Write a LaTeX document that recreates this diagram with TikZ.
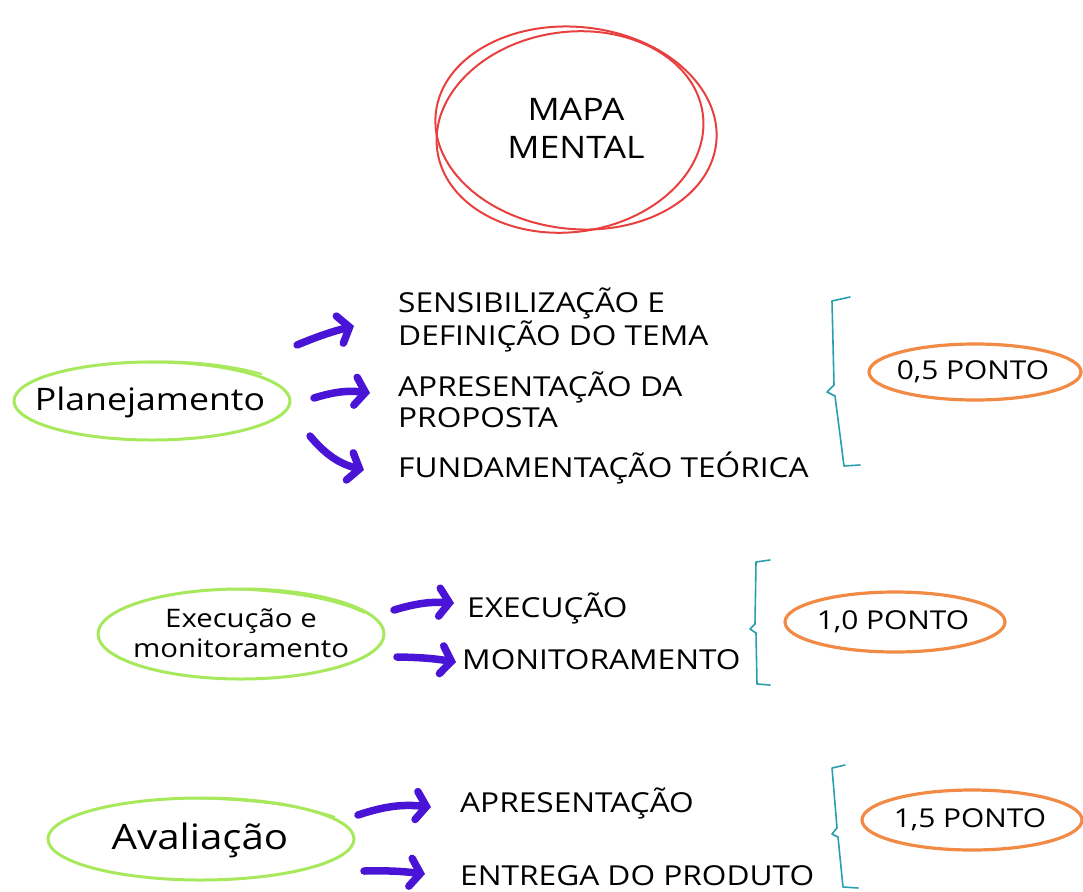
\documentclass[tikz,border=0pt]{standalone}
\usepackage{fontspec}
\setmainfont{Open Sans}
\newfontfamily\hand[FakeStretch=1.15]{Open Sans}
\usetikzlibrary{arrows.meta,shapes.geometric}
\definecolor{mred}{HTML}{E8403F}
\definecolor{mgreen}{HTML}{A8E85C}
\definecolor{mindigo}{HTML}{4A14D6}
\definecolor{mteal}{HTML}{2A9DAE}
\definecolor{morange}{HTML}{F08A44}
\begin{document}
\begin{tikzpicture}[x=1pt,y=-1pt,
 lbl/.style={anchor=west,align=left,inner sep=0,font=\hand\fontsize{27.5}{31}\selectfont},
 ring/.style={draw=mgreen,line width=3pt},
 oring/.style={draw=morange,line width=3.2pt},
 pts/.style={inner sep=0,font=\hand\fontsize{26}{28}\selectfont},
 arr/.style={draw=mindigo,line width=7.5pt,line cap=round,-{Straight Barb[length=10pt,width=28pt,line cap=round]}},
 brace/.style={draw=mteal,line width=1.6pt,line join=round,line cap=round}]
\useasboundingbox (0,0) rectangle (1083,891);

% central circle
\node[align=center,font=\hand\fontsize{31}{38}\selectfont] (map) at (576,128) {MAPA\\MENTAL};
\draw[mred,line width=2pt,rotate around={-6:(572,126)}] (map.center) ellipse [x radius=141pt,y radius=101pt];
\draw[mred,line width=2pt,rotate around={8:(570,132)}] (570,132) ellipse [x radius=134pt,y radius=100pt];

% ---------- Planejamento ----------
\node[inner sep=0,font=\hand\fontsize{31}{34}\selectfont] (plan) at (150,402) {Planejamento};
\draw[ring] (152,401) ellipse [x radius=138pt,y radius=39pt];
\draw[mgreen,line width=2pt] (140,362) .. controls (190,360) and (230,365) .. (262,374);
\node[lbl] (t1) at (398,320) {SENSIBILIZAÇÃO E\\DEFINIÇÃO DO TEMA};
\node[lbl] (t2) at (398,400) {APRESENTAÇÃO DA\\PROPOSTA};
\node[lbl] (t3) at (398,468) {FUNDAMENTAÇÃO TEÓRICA};
\coordinate (a1s) at (297,345); \coordinate (a1e) at (354,326);
\coordinate (a2s) at (314,398); \coordinate (a2e) at (370,393);
\coordinate (a3s) at (310,436); \coordinate (a3e) at (364,470);
\draw[arr] (a1s) to[bend left=4] (a1e);
\draw[arr] (a2s) to[bend left=12] (a2e);
\draw[arr] (a3s) to[bend right=18] (a3e);
\draw[brace] (850,297) -- (832,301) -- (834,385) -- (827,392) -- (835,396) -- (844,466) -- (860,465);
\node[pts] (p1) at (973,372) {0,5 PONTO};
\draw[oring] (975,372) ellipse [x radius=106pt,y radius=28pt];

% ---------- Execução ----------
\node[inner sep=0,align=center,font=\hand\fontsize{25.5}{30}\selectfont] (exe) at (241,633) {Execução e\\monitoramento};
\draw[ring] (241,634) ellipse [x radius=143pt,y radius=45pt];
\draw[mgreen,line width=2pt] (230,589) .. controls (290,591) and (335,599) .. (365,613);
\node[lbl] (t4) at (467,608) {EXECUÇÃO};
\node[lbl] (t5) at (462,660) {MONITORAMENTO};
\coordinate (a4s) at (394,610); \coordinate (a4e) at (454,603);
\coordinate (a5s) at (397,657); \coordinate (a5e) at (456,662);
\draw[arr] (a4s) to[bend left=10] (a4e);
\draw[arr] (a5s) to[bend left=4] (a5e);
\draw[brace] (770,560) -- (756,562) -- (755,624) -- (750,629) -- (756,633) -- (757,684) -- (770,685);
\node[pts] (p2) at (893,622) {1,0 PONTO};
\draw[oring] (895,622) ellipse [x radius=110pt,y radius=30pt];

% ---------- Avaliação ----------
\node[inner sep=0,font=\hand\fontsize{35}{38}\selectfont] (ava) at (200,840) {Avaliação};
\draw[ring] (201,839) ellipse [x radius=153pt,y radius=41pt];
\draw[mgreen,line width=2pt] (185,798) .. controls (250,799) and (300,805) .. (335,817);
\node[lbl] (t6) at (460,803) {APRESENTAÇÃO};
\node[lbl] (t7) at (460,876) {ENTREGA DO PRODUTO};
\coordinate (a6s) at (358,815); \coordinate (a6e) at (431,807);
\coordinate (a7s) at (364,871); \coordinate (a7e) at (425,874);
\draw[arr] (a6s) to[bend left=12] (a6e);
\draw[arr] (a7s) to[bend left=4] (a7e);
\draw[brace] (845,765) -- (832,768) -- (837,828) -- (832,834) -- (838,837) -- (843,887) -- (858,888);
\node[pts] (p3) at (970,820) {1,5 PONTO};
\draw[oring] (972,820) ellipse [x radius=110pt,y radius=30pt];
\end{tikzpicture}
\end{document}
